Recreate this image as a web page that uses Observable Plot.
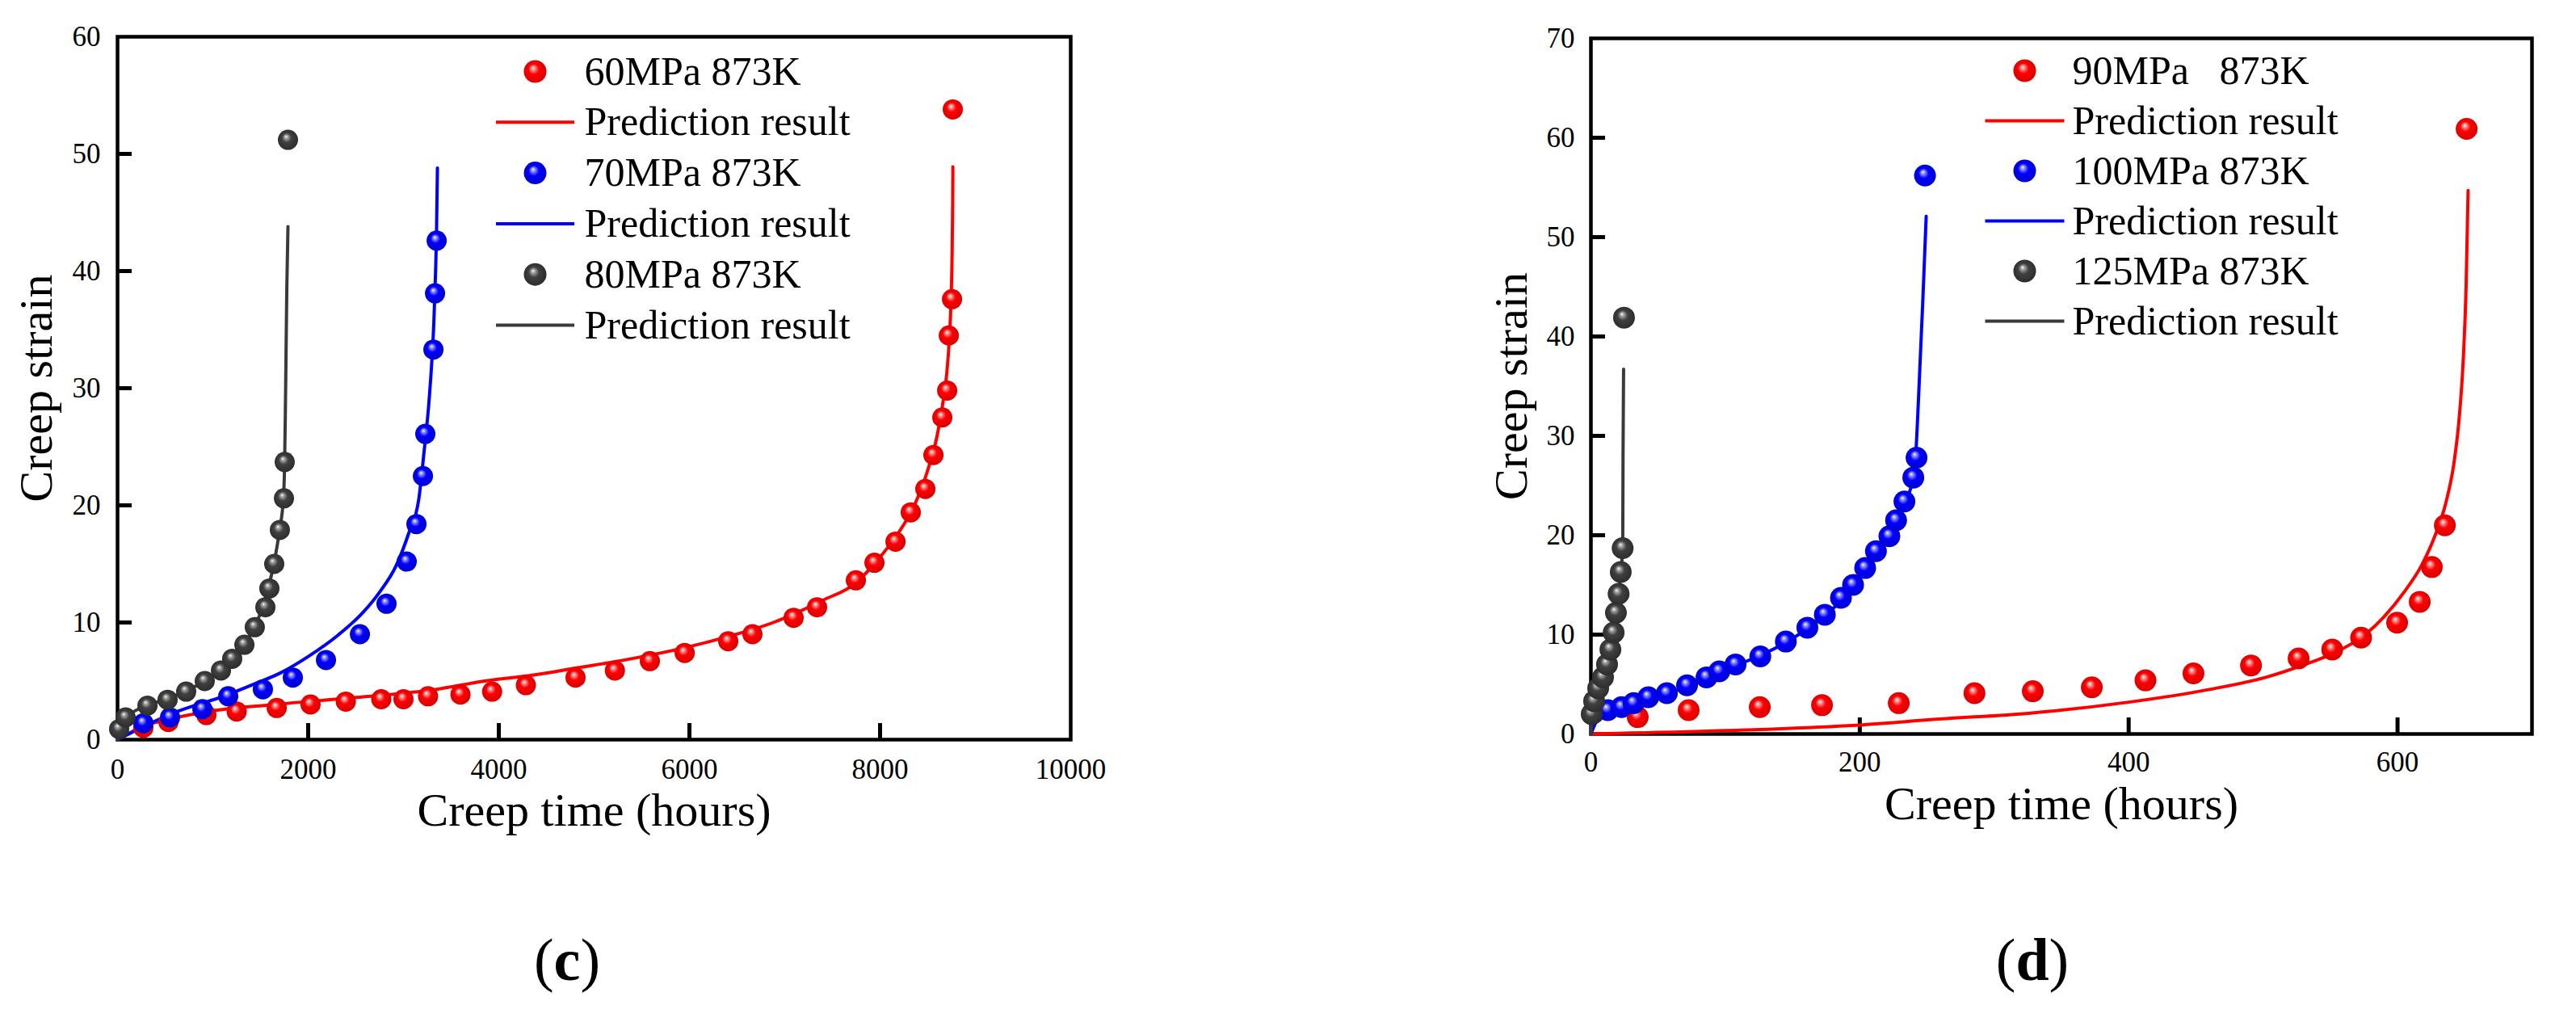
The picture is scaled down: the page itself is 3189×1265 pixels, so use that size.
<!DOCTYPE html>
<html>
<head>
<meta charset="utf-8">
<script src="https://cdn.jsdelivr.net/npm/d3@7"></script>
<script src="https://cdn.jsdelivr.net/npm/@observablehq/plot@0.6"></script>
<style>
  body { margin: 0; background: #fff; }
  #fig { position: relative; width: 3189px; height: 1265px; background: #fff; overflow: hidden;
         font-family: "Liberation Serif", "Times New Roman", serif; color: #000; }
  #fig svg text { white-space: pre; }
  .panel { position: absolute; top: 0; }
  .tag { position: absolute; width: 200px; text-align: center; font-size: 74px; line-height: 74px;
         font-family: "Liberation Serif", "Times New Roman", serif; }
</style>
</head>
<body>
<svg width="0" height="0" style="position:absolute">
  <defs>
    <radialGradient id="ballRed" cx="0.5" cy="0.5" r="0.55" fx="0.4" fy="0.33">
      <stop offset="0" stop-color="#ffffff"/>
      <stop offset="0.14" stop-color="#ff9a9a"/>
      <stop offset="0.42" stop-color="#ff0000"/>
      <stop offset="1" stop-color="#d40000"/>
    </radialGradient>
    <radialGradient id="ballBlue" cx="0.5" cy="0.5" r="0.55" fx="0.4" fy="0.33">
      <stop offset="0" stop-color="#ffffff"/>
      <stop offset="0.14" stop-color="#9a9aff"/>
      <stop offset="0.42" stop-color="#0000ff"/>
      <stop offset="1" stop-color="#0000c8"/>
    </radialGradient>
    <radialGradient id="ballGray" cx="0.5" cy="0.5" r="0.55" fx="0.4" fy="0.33">
      <stop offset="0" stop-color="#ffffff"/>
      <stop offset="0.14" stop-color="#a8a8a8"/>
      <stop offset="0.42" stop-color="#404040"/>
      <stop offset="1" stop-color="#2a2a2a"/>
    </radialGradient>
  </defs>
</svg>
<div id="fig">
  <div class="panel" id="pc" style="left:0px"></div>
  <div class="panel" id="pd" style="left:1594px"></div>
  <div class="tag" style="left:602px;top:1151px">(<b>c</b>)</div>
  <div class="tag" style="left:2416px;top:1151px">(<b>d</b>)</div>
</div>
<script>
// ---------------- Panel (c) data ----------------
const xTicksC = [0, 2000, 4000, 6000, 8000, 10000];
const yTicksC = [0, 10, 20, 30, 40, 50, 60];
const legendC = ["60MPa 873K", "Prediction result", "70MPa 873K", "Prediction result", "80MPa 873K", "Prediction result"];

const obs60 = [[271,1.0],[534,1.5],[932,2.1],[1250,2.4],[1670,2.7],[2025,3.0],[2395,3.25],[2767,3.45],[3000,3.45],[3258,3.7],[3598,3.85],[3930,4.1],[4284,4.65],[4805,5.3],[5218,5.9],[5585,6.7],[5950,7.4],[6407,8.4],[6661,9.0],[7093,10.4],[7339,11.3],[7746,13.6],[7941,15.1],[8162,16.9],[8322,19.4],[8475,21.4],[8560,24.3],[8653,27.5],[8704,29.8],[8721,34.5],[8755,37.6],[8763,53.8]];
const pred60 = [[0,0],[70,0.3],[250,1.1],[520,1.7],[950,2.4],[1650,3.0],[2500,3.6],[3350,4.3],[3850,5.0],[4350,5.5],[4800,6.1],[5320,6.8],[5930,7.8],[6450,8.9],[6880,10.0],[7400,11.9],[7750,13.4],[7970,15.3],[8180,17.5],[8360,20.0],[8500,23.0],[8600,26.0],[8660,28.8],[8700,31.3],[8725,34.0],[8745,37.5],[8755,41.0],[8761,45.0],[8764,48.9]];

const obs70 = [[271,1.4],[551,1.9],[890,2.6],[1161,3.7],[1525,4.3],[1839,5.3],[2187,6.8],[2543,9.0],[2822,11.6],[3034,15.2],[3136,18.4],[3204,22.5],[3229,26.1],[3314,33.3],[3331,38.1],[3348,42.6]];
const pred70 = [[0,0],[195,0.8],[627,2.4],[1110,3.7],[1450,4.8],[1710,5.7],[2020,7.2],[2310,8.9],[2580,10.9],[2750,12.6],[2920,14.8],[3050,17.5],[3160,20.5],[3215,24.5],[3265,28.6],[3295,32.0],[3318,35.5],[3335,39.5],[3347,43.5],[3356,48.8]];

const obs80 = [[17,0.9],[85,1.9],[314,2.9],[525,3.4],[720,4.1],[915,5.0],[1085,5.9],[1203,6.9],[1331,8.1],[1440,9.6],[1551,11.3],[1593,12.9],[1644,15.0],[1703,17.9],[1746,20.6],[1754,23.7],[1788,51.2]];
const pred80 = [[0,0],[40,1.0],[100,1.9],[310,2.9],[525,3.5],[730,4.2],[915,5.0],[1085,5.9],[1210,6.9],[1340,8.1],[1430,9.6],[1510,11.0],[1580,12.9],[1640,15.0],[1700,17.9],[1740,20.6],[1752,23.2],[1760,27.5],[1768,33.0],[1776,38.5],[1788,43.8]];

// ---------------- Panel (d) data ----------------
const xTicksD = [0, 200, 400, 600];
const yTicksD = [0, 10, 20, 30, 40, 50, 60, 70];
const legendD = ["90MPa   873K", "Prediction result", "100MPa 873K", "Prediction result", "125MPa 873K", "Prediction result"];

const obs90 = [[34.8,1.7],[72.7,2.4],[125.6,2.7],[171.9,2.9],[229,3.1],[285.3,4.1],[328.7,4.3],[372.6,4.7],[412.5,5.4],[448.2,6.1],[491,6.9],[526.4,7.6],[551.4,8.5],[572.9,9.7],[599.7,11.2],[616.5,13.3],[625.5,16.8],[635.2,21.0],[651.4,60.9]];
const pred90 = [[0,0],[115,0.4],[199,0.9],[259,1.5],[327,2.1],[400,3.2],[461,4.5],[502,5.7],[529,6.9],[555,8.3],[575,9.9],[590,11.8],[605,14.3],[618,17.0],[628,20.0],[636,23.3],[642,27.3],[646,32.0],[649,38.0],[651,45.0],[652.5,54.7]];

const obs100 = [[1.8,2.1],[12.6,2.4],[22.8,2.7],[31.8,3.1],[42.7,3.7],[56.5,4.1],[71.5,4.9],[86,5.7],[95.5,6.3],[107.6,7.0],[126,7.8],[145,9.3],[161,10.7],[174,12.0],[186,13.7],[195,15.0],[204,16.7],[212,18.4],[222,19.9],[227,21.5],[233.2,23.4],[239.8,25.8],[242.2,27.8],[248.5,56.2]];
const pred100 = [[0,0],[5,1.5],[13,2.3],[23,2.7],[32,3.1],[43,3.6],[57,4.1],[72,4.8],[86,5.6],[96,6.2],[108,6.9],[126,7.9],[145,9.2],[161,10.6],[174,11.9],[186,13.4],[195,14.8],[204,16.5],[212,18.2],[222,19.9],[228,21.5],[234,23.4],[240,26],[242,29],[243.5,33.2],[247,44],[249.4,52.1]];

const obs125 = [[0.6,2.0],[2.4,3.3],[5.4,4.6],[9.0,5.7],[12.0,7.0],[14.5,8.5],[16.9,10.2],[18.6,12.2],[20.6,14.1],[22.2,16.3],[23.6,18.7],[24.6,41.9]];
const pred125 = [[0,0],[1,2],[3,3.2],[6,4.6],[9,5.7],[12,7.0],[14.5,8.5],[17,10.2],[18.7,12.2],[20.6,14.1],[22.2,16.3],[23.6,18.7],[23.7,20],[23.9,28],[24.3,36.7]];

// ---------------- styling ----------------
const seriesColors = ["#ff0000", "#0000ff", "#3a3a3a"];
const ballFills = ["url(#ballRed)", "url(#ballBlue)", "url(#ballGray)"];

function lineSymbol(half) {
  return { draw(ctx) { ctx.moveTo(-half, 0); ctx.lineTo(half, 0); } };
}

function drawPanel(cfg) {
  const marks = [
    Plot.frame({stroke: "#000", strokeWidth: 4.5}),
    Plot.axisY(cfg.yTicks, {tickSize: 0, tickPadding: cfg.yPad, fontSize: 35, tickFormat: d => `${d}`, label: null}),
    Plot.axisY(cfg.yTicks.slice(1, -1).filter(v => v < cfg.yDomain[1]), {tickSize: -18, tickFormat: () => "", strokeWidth: 5, label: null}),
    Plot.axisX(cfg.xTicks, {tickSize: 0, tickPadding: cfg.xPad, fontSize: 35, tickFormat: d => `${d}`, label: null}),
    Plot.axisX(cfg.xTicks.filter(v => v > cfg.xDomain[0] && v < cfg.xDomain[1]), {tickSize: -20, tickFormat: () => "", strokeWidth: 5, label: null})
  ];
  cfg.series.forEach((s, i) => {
    marks.push(Plot.line(s.pred, {x: d => d[0], y: d => d[1], stroke: seriesColors[i], strokeWidth: 4, curve: "monotone-x"}));
  });
  cfg.series.forEach((s, i) => {
    marks.push(Plot.dot(s.obs, {x: d => d[0], y: d => d[1], r: cfg.r, fill: ballFills[i], stroke: "none"}));
  });
  // legend
  cfg.legend.forEach((label, k) => {
    const i = Math.floor(k / 2);
    const dy = cfg.leg.row0 + k * cfg.leg.step;
    if (k % 2 === 0) {
      marks.push(Plot.dot([label], {frameAnchor: "top-left", dx: cfg.leg.markDx, dy, r: 14, fill: ballFills[i], stroke: "none"}));
    } else {
      marks.push(Plot.dot([label], {frameAnchor: "top-left", dx: cfg.leg.markDx, dy, r: 1, symbol: lineSymbol(cfg.leg.half), fill: "none", stroke: seriesColors[i], strokeWidth: 4}));
    }
    marks.push(Plot.text([label], {frameAnchor: "top-left", dx: cfg.leg.textDx, dy, text: d => d, textAnchor: "start", lineAnchor: "middle", fontSize: 50, fill: "#000"}));
  });
  // axis titles
  marks.push(Plot.text(["Creep time (hours)"], {frameAnchor: "bottom", dy: cfg.xTitleDy, text: d => d, textAnchor: "middle", lineAnchor: "middle", fontSize: 58, fill: "#000"}));
  marks.push(Plot.text(["Creep strain"], {frameAnchor: "left", dx: cfg.yTitleDx, rotate: -90, text: d => d, textAnchor: "middle", lineAnchor: "middle", fontSize: 58, fill: "#000"}));

  const chart = Plot.plot({
    width: cfg.width,
    height: 1100,
    marginLeft: cfg.m[0], marginRight: cfg.m[1], marginTop: cfg.m[2], marginBottom: cfg.m[3],
    x: {domain: cfg.xDomain},
    y: {domain: cfg.yDomain},
    style: {fontFamily: "Liberation Serif, Times New Roman, serif", background: "transparent", overflow: "visible", color: "#000"},
    marks
  });
  document.getElementById(cfg.el).appendChild(chart);
}

drawPanel({
  el: "pc", width: 1594, m: [145, 269, 45, 185],
  xDomain: [0, 10000], yDomain: [0, 60], xTicks: xTicksC, yTicks: yTicksC,
  xPad: 24, yPad: 21, r: 12.5,
  series: [{obs: obs60, pred: pred60}, {obs: obs70, pred: pred70}, {obs: obs80, pred: pred80}],
  legend: legendC,
  leg: {row0: 43, step: 62.8, markDx: 517, half: 48.5, textDx: 578},
  xTitleDy: 88, yTitleDx: -100
});

drawPanel({
  el: "pd", width: 1595, m: [375, 55, 47, 192],
  xDomain: [0, 700], yDomain: [0, 70], xTicks: xTicksD, yTicks: yTicksD,
  xPad: 22, yPad: 20, r: 13.5,
  series: [{obs: obs90, pred: pred90}, {obs: obs100, pred: pred100}, {obs: obs125, pred: pred125}],
  legend: legendD,
  leg: {row0: 40, step: 62, markDx: 537, half: 49, textDx: 596},
  xTitleDy: 87, yTitleDx: -98
});
</script>
</body>
</html>
